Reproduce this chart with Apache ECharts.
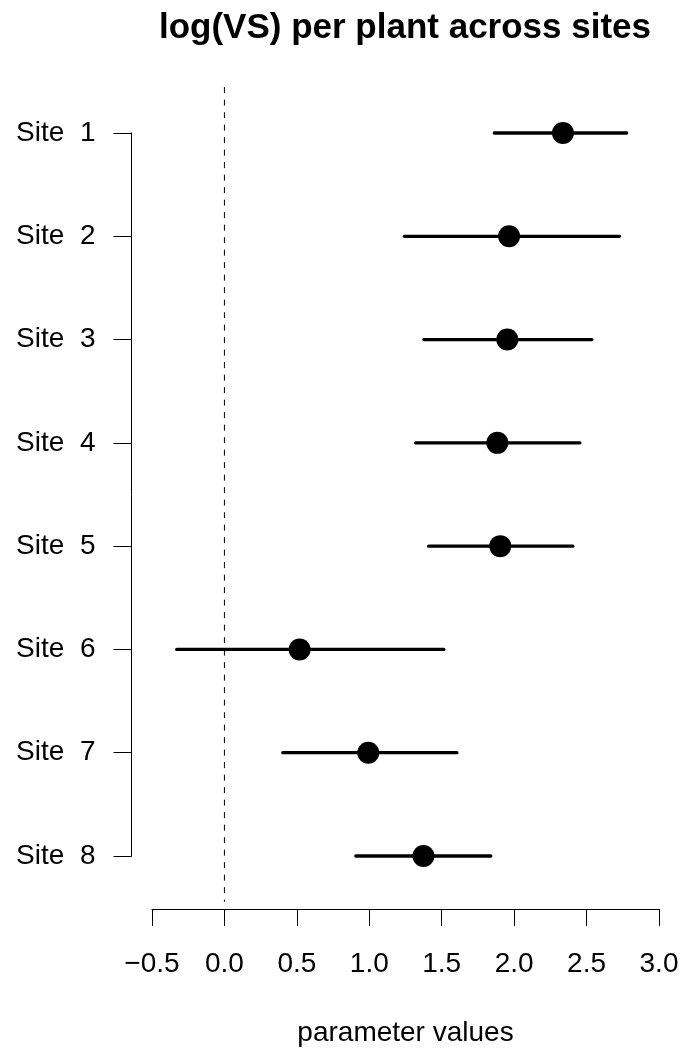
<!DOCTYPE html>
<html>
<head>
<meta charset="utf-8">
<title>log(VS) per plant across sites</title>
<script src="https://cdn.jsdelivr.net/npm/echarts@6/dist/echarts.min.js"></script>
<style>
  html, body { margin: 0; padding: 0; background: #fff; }
  #chart { width: 685px; height: 1052px; }
</style>
</head>
<body>
<div id="chart"></div>
<script>
// Sites (one row each, top to bottom)
const sites = ['Site  1', 'Site  2', 'Site  3', 'Site  4', 'Site  5', 'Site  6', 'Site  7', 'Site  8'];
// Posterior estimate of log(VS) per plant for each site
const estimates = [2.337, 1.965, 1.953, 1.884, 1.904, 0.519, 0.993, 1.374];
// Interval bounds
const lower = [1.863, 1.243, 1.377, 1.320, 1.410, -0.329, 0.403, 0.907];
const upper = [2.777, 2.727, 2.536, 2.454, 2.405, 1.515, 1.605, 1.839];
// Horizontal axis ticks
const xTicks = [-0.5, 0.0, 0.5, 1.0, 1.5, 2.0, 2.5, 3.0];
// Reference line at zero, spanning the full plotting region
const zeroLine = { x: 0, from: 0.556, to: 8.444 };

const FONT = '"Liberation Sans", Arial, Helvetica, sans-serif';
const rows = sites.map((s, i) => i + 1);

const chart = echarts.init(document.getElementById('chart'), null, { renderer: 'canvas' });

chart.setOption({
  animation: false,
  backgroundColor: '#ffffff',
  title: {
    text: 'log(VS) per plant across sites',
    left: 400,
    top: 6,
    textAlign: 'center',
    textStyle: { fontFamily: FONT, fontWeight: 'bold', fontSize: 35, color: '#000' }
  },
  grid: { left: 152, right: 26, top: 133, bottom: 194, containLabel: false },
  xAxis: {
    type: 'value',
    min: xTicks[0],
    max: xTicks[xTicks.length - 1],
    interval: 0.5,
    offset: 53,
    name: 'parameter values',
    nameLocation: 'middle',
    nameGap: 110,
    nameTextStyle: { fontFamily: FONT, fontSize: 28, color: '#000' },
    splitLine: { show: false },
    axisLine: { show: true, onZero: false, lineStyle: { color: '#000', width: 1 } },
    axisTick: { show: true, length: 17, lineStyle: { color: '#000', width: 1 } },
    axisLabel: {
      margin: 41,
      fontFamily: FONT,
      fontSize: 28,
      color: '#000',
      formatter: v => (v < 0 ? '\u2212' : '') + Math.abs(v).toFixed(1)
    }
  },
  yAxis: {
    type: 'value',
    inverse: true,
    min: 1,
    max: sites.length,
    interval: 1,
    offset: 20.5,
    splitLine: { show: false },
    axisLine: { show: true, onZero: false, lineStyle: { color: '#000', width: 1 } },
    axisTick: { show: true, length: 18, lineStyle: { color: '#000', width: 1 } },
    axisLabel: {
      margin: 36,
      fontFamily: FONT,
      fontSize: 28,
      color: '#000',
      formatter: v => sites[v - 1] || ''
    }
  },
  series: [
    {
      // dashed zero reference line
      type: 'line',
      data: [[zeroLine.x, zeroLine.from], [zeroLine.x, zeroLine.to]],
      showSymbol: false,
      clip: false,
      silent: true,
      lineStyle: { color: '#000', width: 1, type: [6, 6.5] },
      z: 1
    },
    {
      // interval segments
      type: 'custom',
      data: rows.map((r, i) => [lower[i], upper[i], r]),
      clip: false,
      renderItem: (params, api) => {
        const a = api.coord([api.value(0), api.value(2)]);
        const b = api.coord([api.value(1), api.value(2)]);
        return {
          type: 'line',
          shape: { x1: a[0], y1: a[1], x2: b[0], y2: b[1] },
          style: { stroke: '#000', lineWidth: 3.3, lineCap: 'round' }
        };
      },
      z: 2
    },
    {
      // point estimates
      type: 'scatter',
      data: rows.map((r, i) => [estimates[i], r]),
      symbol: 'circle',
      symbolSize: 22,
      clip: false,
      itemStyle: { color: '#000', opacity: 1 },
      z: 3
    }
  ]
});
</script>
</body>
</html>
